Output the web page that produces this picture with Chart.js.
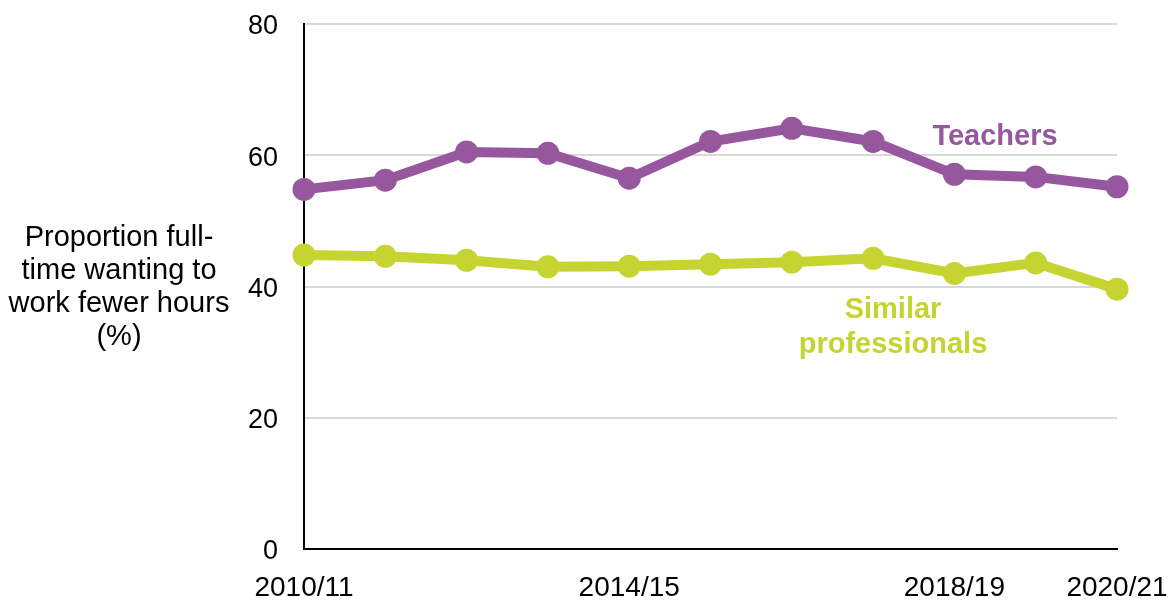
<!DOCTYPE html>
<html>
<head>
<meta charset="utf-8">
<script src="https://cdn.jsdelivr.net/npm/chart.js@4/dist/chart.umd.min.js"></script>
<style>
  html, body { margin: 0; padding: 0; background: #fff; }
  #wrap { position: relative; width: 1175px; height: 601px; font-family: "Liberation Sans", Arial, sans-serif; }
  .lbl { position: absolute; text-align: center; white-space: nowrap; }
</style>
</head>
<body>
<div id="wrap">
  <canvas id="hoursChart" width="1175" height="601"></canvas>
  <div class="lbl" style="left:0px; top:220px; width:238px; font-size:29px; line-height:33px; color:#000;">Proportion full-<br>time wanting to<br>work fewer hours<br>(%)</div>
  <div class="lbl" style="left:895px; top:118px; width:200px; font-size:29px; line-height:35px; font-weight:bold; color:#96579e;">Teachers</div>
  <div class="lbl" style="left:773px; top:291px; width:240px; font-size:29px; line-height:35px; font-weight:bold; color:#c5d431;">Similar<br>professionals</div>
</div>
<script>
var years = ['2010/11', '2011/12', '2012/13', '2013/14', '2014/15', '2015/16',
             '2016/17', '2017/18', '2018/19', '2019/20', '2020/21'];
var shownYears = ['2010/11', '2014/15', '2018/19', '2020/21'];
var teachers = [54.8, 56.2, 60.5, 60.3, 56.5, 62.1, 64.1, 62.1, 57.1, 56.7, 55.2];
var similarProfessionals = [44.8, 44.6, 44.0, 43.0, 43.1, 43.4, 43.7, 44.3, 42.0, 43.6, 39.6];
var yTicks = [0, 20, 40, 60, 80];

// keep chart area exactly where we put it (no extra padding for label overflow)
function noOverflow(scale) {
    scale.paddingLeft = 0;
    scale.paddingRight = 0;
    scale.paddingTop = 0;
    scale.paddingBottom = 0;
}

var ctx = document.getElementById('hoursChart').getContext('2d');
var hoursChart = new Chart(ctx, {
    type: 'line',
    data: {
        labels: years,
        datasets: [{
            label: 'Teachers',
            data: teachers,
            borderColor: '#96579e',
            backgroundColor: '#96579e',
            borderWidth: 10,
            pointRadius: 11.5,
            pointHoverRadius: 11.5,
            pointBorderWidth: 0,
            clip: false
        }, {
            label: 'Similar professionals',
            data: similarProfessionals,
            borderColor: '#c5d431',
            backgroundColor: '#c5d431',
            borderWidth: 10,
            pointRadius: 11.5,
            pointHoverRadius: 11.5,
            pointBorderWidth: 0,
            clip: false
        }]
    },
    options: {
        responsive: false,
        animation: false,
        layout: { padding: { left: 224, right: 58, top: 24, bottom: 0 } },
        plugins: {
            legend: { display: false },
            tooltip: { enabled: false }
        },
        scales: {
            x: {
                offset: false,
                grid: { display: false, drawTicks: false },
                border: { display: true, color: '#000', width: 2 },
                ticks: {
                    autoSkip: false,
                    maxRotation: 0,
                    padding: 22,
                    color: '#000',
                    font: { family: '"Liberation Sans", Arial', size: 28 },
                    callback: function(value, index) {
                        var lab = years[index];
                        return shownYears.indexOf(lab) >= 0 ? lab : '';
                    }
                },
                afterFit: function(scale) { scale.height = 52; noOverflow(scale); }
            },
            y: {
                min: 0,
                max: 80,
                afterBuildTicks: function(scale) {
                    scale.ticks = yTicks.map(function(v) { return { value: v }; });
                },
                grid: { color: '#d9d9d9', lineWidth: 2, drawTicks: false },
                border: { display: true, color: '#000', width: 2 },
                ticks: {
                    padding: 26,
                    labelOffset: 3,
                    color: '#000',
                    font: { family: '"Liberation Sans", Arial', size: 27 }
                },
                afterFit: function(scale) { scale.width = 80; noOverflow(scale); }
            }
        }
    }
});
</script>
</body>
</html>
